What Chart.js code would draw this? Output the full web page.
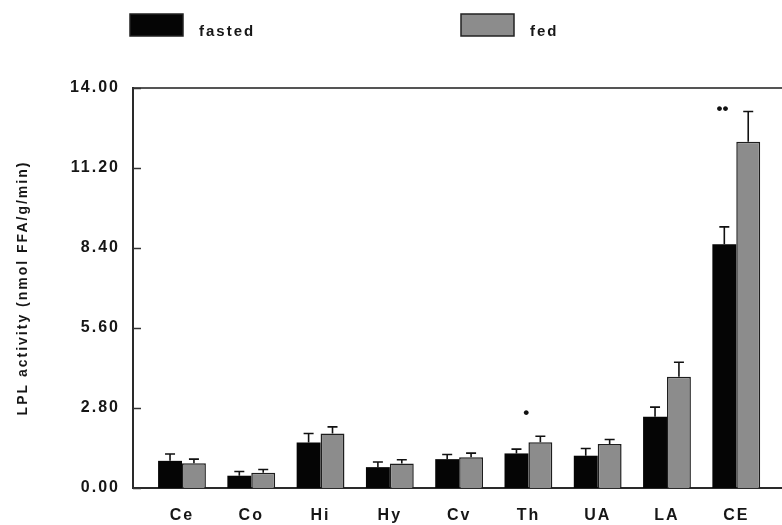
<!DOCTYPE html>
<html>
<head>
<meta charset="utf-8">
<script src="https://cdn.jsdelivr.net/npm/chart.js@4.4.1/dist/chart.umd.min.js"></script>
<style>
  html, body { margin: 0; padding: 0; background: #fff; }
</style>
</head>
<body>
<canvas id="lplChart" width="782" height="525"></canvas>
<script>
// tissue regions and LPL activity (nmol FFA/g/min), mean and SEM
const regions = ['Ce', 'Co', 'Hi', 'Hy', 'Cv', 'Th', 'UA', 'LA', 'CE'];
const fasted = [0.95, 0.43, 1.59, 0.73, 1.01, 1.21, 1.13, 2.49, 8.53];
const fastedErr = [0.24, 0.15, 0.32, 0.18, 0.16, 0.15, 0.25, 0.34, 0.61];
const fed = [0.87, 0.53, 1.91, 0.86, 1.08, 1.60, 1.54, 3.89, 12.12];
const fedErr = [0.14, 0.12, 0.23, 0.13, 0.14, 0.21, 0.16, 0.51, 1.06];
const yTicks = [0, 2.8, 5.6, 8.4, 11.2, 14];

// significance marks and the level they sit at
const sigMarks = ['', '', '', '', '', '•', '', '', '••'];
const sigLevel = [null, null, null, null, null, 2.62, null, null, 13.25];
const sigShift = [0, 0, 0, 0, 0, -0.03, 0, 0, -0.2];

const textColor = '#161616';
const fontFamily = '"Liberation Sans", Arial, sans-serif';
const errSets = [fastedErr, fedErr];

// canvas letter spacing to mimic the wide scanned type
const spacing = {
  id: 'spacing',
  beforeUpdate(chart) { chart.ctx.letterSpacing = '2px'; },
  beforeDraw(chart) { chart.ctx.letterSpacing = '2px'; }
};

// error bars (upward only) + inward tick marks + stars
const extras = {
  id: 'extras',
  afterDatasetsDraw(chart) {
    const ctx = chart.ctx;
    const y = chart.scales.y;
    const x = chart.scales.x;
    ctx.save();
    ctx.strokeStyle = '#111';
    ctx.lineWidth = 1.6;
    chart.data.datasets.forEach((ds, i) => {
      const meta = chart.getDatasetMeta(i);
      meta.data.forEach((bar, j) => {
        const top = y.getPixelForValue(ds.data[j].y + errSets[i][j]);
        ctx.beginPath();
        ctx.moveTo(bar.x, bar.y);
        ctx.lineTo(bar.x, top);
        ctx.moveTo(bar.x - 5, top);
        ctx.lineTo(bar.x + 5, top);
        ctx.stroke();
      });
    });
    // inward ticks on the y axis
    ctx.strokeStyle = '#333';
    ctx.lineWidth = 1.5;
    const left = chart.chartArea.left;
    yTicks.forEach(v => {
      const py = Math.round(y.getPixelForValue(v)) + 0.5;
      ctx.beginPath();
      ctx.moveTo(left, py);
      ctx.lineTo(left + 8, py);
      ctx.stroke();
    });
    // significance dots
    ctx.fillStyle = '#111';
    ctx.letterSpacing = '0px';
    ctx.font = 'bold 17px ' + fontFamily;
    ctx.textAlign = 'center';
    ctx.textBaseline = 'middle';
    sigMarks.forEach((m, i) => {
      if (!m) return;
      ctx.fillText(m, x.getPixelForValue(i + sigShift[i]), y.getPixelForValue(sigLevel[i]));
    });
    ctx.restore();
  }
};

// legend drawn on top, left item and right item
const legendAt = [130, 461];
const topLegend = {
  id: 'topLegend',
  afterDraw(chart) {
    const ctx = chart.ctx;
    ctx.save();
    ctx.letterSpacing = '2px';
    ctx.font = 'bold 15px ' + fontFamily;
    ctx.textBaseline = 'alphabetic';
    ctx.textAlign = 'left';
    chart.data.datasets.forEach((ds, i) => {
      const lx = legendAt[i];
      ctx.fillStyle = ds.backgroundColor;
      ctx.fillRect(lx, 14, 53, 22);
      ctx.strokeStyle = '#222';
      ctx.lineWidth = 1.5;
      ctx.strokeRect(lx, 14, 53, 22);
      ctx.fillStyle = textColor;
      ctx.fillText(ds.label, lx + 69, 36);
    });
    ctx.restore();
  }
};

const ctx = document.getElementById('lplChart').getContext('2d');
new Chart(ctx, {
  type: 'bar',
  data: {
    datasets: [
      {
        label: 'fasted',
        data: fasted.map((v, i) => ({ x: i, y: v })),
        backgroundColor: '#050505',
        borderColor: '#050505',
        borderWidth: 0
      },
      {
        label: 'fed',
        data: fed.map((v, i) => ({ x: i, y: v })),
        backgroundColor: '#8c8c8c',
        borderColor: '#1e1e1e',
        borderWidth: 1.5
      }
    ]
  },
  options: {
    responsive: false,
    animation: false,
    devicePixelRatio: 1,
    categoryPercentage: 0.69,
    barPercentage: 1.0,
    layout: { padding: { top: 88, right: 0, left: 0, bottom: 0 } },
    plugins: {
      legend: { display: false },
      tooltip: { enabled: false }
    },
    scales: {
      x: {
        type: 'linear',
        offset: false,
        min: -0.707,
        max: 8.66,
        afterBuildTicks: s => { s.ticks = regions.map((_, i) => ({ value: i })); },
        afterFit: s => { s.height = 37; },
        grid: { display: false, drawTicks: false },
        border: { display: true, color: '#2a2a2a', width: 2 },
        ticks: {
          padding: 18,
          color: textColor,
          font: { family: fontFamily, size: 16, weight: 'bold' },
          maxRotation: 0,
          callback: v => regions[v]
        }
      },
      xTop: {
        type: 'linear',
        position: 'top',
        offset: false,
        min: -0.707,
        max: 8.66,
        grid: { display: false, drawTicks: false },
        border: { display: true, color: '#555', width: 2 },
        ticks: { display: false }
      },
      y: {
        min: 0,
        max: 14,
        afterBuildTicks: s => { s.ticks = yTicks.map(v => ({ value: v })); },
        afterFit: s => { s.width = 133; },
        grid: { display: false, drawTicks: false },
        border: { display: true, color: '#2a2a2a', width: 2 },
        ticks: {
          padding: 13,
          color: textColor,
          font: { family: fontFamily, size: 16, weight: 'bold' },
          callback: v => v.toFixed(2)
        },
        title: {
          display: true,
          text: 'LPL activity (nmol FFA/g/min)',
          color: textColor,
          font: { family: fontFamily, size: 14, weight: 'bold' },
          padding: { top: 15, bottom: 0 }
        }
      }
    }
  },
  plugins: [spacing, extras, topLegend]
});
</script>
</body>
</html>
